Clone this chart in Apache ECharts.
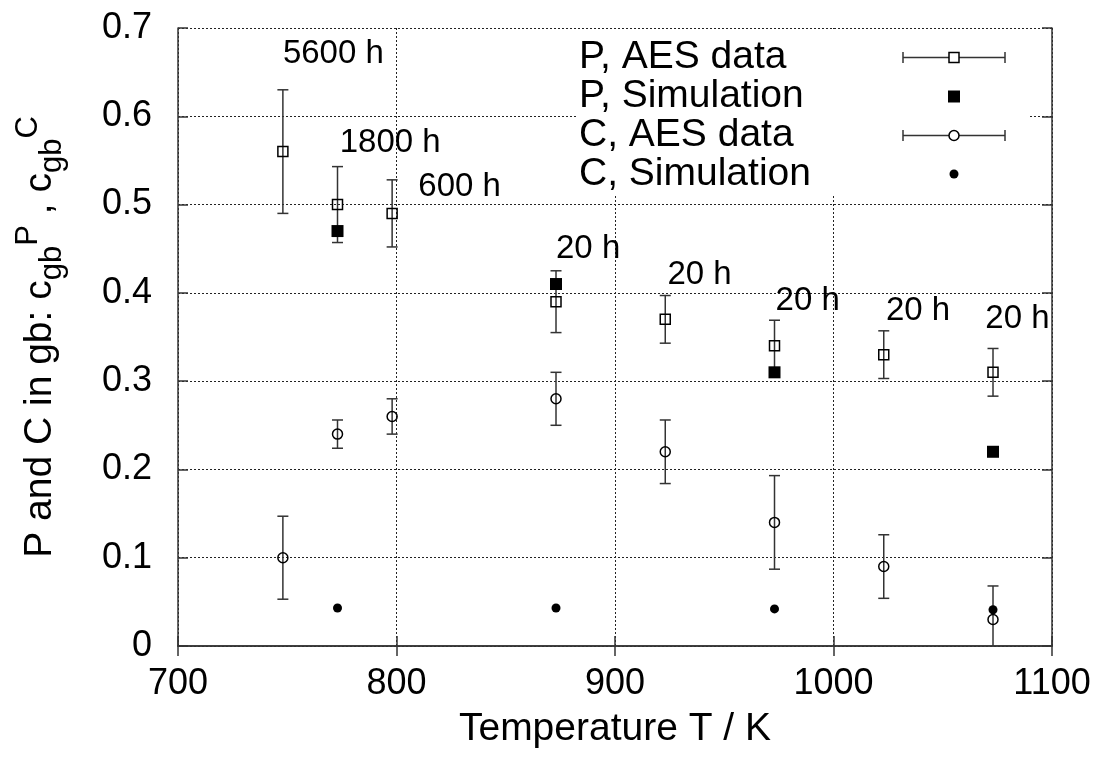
<!DOCTYPE html>
<html>
<head>
<meta charset="utf-8">
<title>P and C grain boundary concentration vs temperature</title>
<script src="https://cdn.jsdelivr.net/npm/echarts@6/dist/echarts.min.js"></script>
<style>
  html, body { margin: 0; padding: 0; background: #fff; }
  #chart { width: 1099px; height: 763px; }
</style>
</head>
<body>
<div id="chart"></div>
<script>
// Temperatures (K) of the AES measurements and of the simulations
const tempsAes = [748, 773, 798, 873, 923, 973, 1023, 1073];
const tempsSim = [773, 873, 973, 1073];

// Phosphorus: measured grain-boundary fraction with error, simulated values
const pAes    = [0.56, 0.50, 0.49, 0.39, 0.37, 0.34, 0.33, 0.31];
const pAesErr = [0.07, 0.043, 0.038, 0.035, 0.027, 0.029, 0.027, 0.027];
const pSim    = [0.47, 0.41, 0.31, 0.22];

// Carbon: measured grain-boundary fraction with error, simulated values
const cAes    = [0.10, 0.24, 0.26, 0.28, 0.22, 0.14, 0.09, 0.03];
const cAesErr = [0.047, 0.016, 0.02, 0.03, 0.036, 0.053, 0.036, 0.038];
const cSim    = [0.043, 0.043, 0.042, 0.041];

// Annealing-time annotations (anchor = left end of the text)
const noteT    = [748, 774, 810, 873, 924, 973.5, 1024, 1069.5];
const noteY    = [0.671, 0.570, 0.520, 0.450, 0.420, 0.391, 0.380, 0.370];
const noteText = ['5600 h', '1800 h', '600 h', '20 h', '20 h', '20 h', '20 h', '20 h'];

const legendNames = ['P, AES data', 'P, Simulation', 'C, AES data', 'C, Simulation'];

const FONT = '"Liberation Sans", Arial, Helvetica, sans-serif';
const INK = '#000';
const FRAME = '#333';

const zip = (xs, ys) => xs.map((x, i) => [x, ys[i]]);
const withErr = (xs, ys, es) => xs.map((x, i) => [x, ys[i], es[i]]);

// Vertical error bar with end caps
function errorBar(params, api) {
  const x = api.value(0), y = api.value(1), e = api.value(2);
  const top = api.coord([x, y + e]);
  const bot = api.coord([x, y - e]);
  const cap = 5.5;
  const st = { stroke: FRAME, lineWidth: 1.5 };
  return {
    type: 'group',
    children: [
      { type: 'line', shape: { x1: top[0], y1: top[1], x2: bot[0], y2: bot[1] }, style: st },
      { type: 'line', shape: { x1: top[0] - cap, y1: top[1], x2: top[0] + cap, y2: top[1] }, style: st },
      { type: 'line', shape: { x1: bot[0] - cap, y1: bot[1], x2: bot[0] + cap, y2: bot[1] }, style: st }
    ]
  };
}

const gridLine = { show: true, lineStyle: { color: '#222', width: 1, type: [2, 2] } };
const frameLine = { show: true, lineStyle: { color: FRAME, width: 1.5 } };
const inTick = { show: true, inside: true, length: 10, lineStyle: { color: FRAME, width: 1.5 } };

// Key drawn in the upper right corner of the plot
const rowY = [57.5, 96.5, 135.5, 174];
const keyText = 579, keyMid = 954, keyL = 903, keyR = 1005;
const keyEls = [
  // white panel hiding the grid behind the key
  { type: 'rect', z: 3, shape: { x: 578, y: 29, width: 450, height: 166 }, style: { fill: '#fff' } }
];
legendNames.forEach((name, i) => {
  const y = rowY[i];
  keyEls.push({ type: 'text', z: 4, x: keyText, y: y,
    style: { text: name, font: '39px ' + FONT, fill: INK, verticalAlign: 'middle', align: 'left' } });
  const hasBar = (i === 0 || i === 2);
  if (hasBar) {
    const st = { stroke: FRAME, lineWidth: 1.5 };
    keyEls.push({ type: 'line', z: 4, shape: { x1: keyL, y1: y, x2: keyR, y2: y }, style: st });
    keyEls.push({ type: 'line', z: 4, shape: { x1: keyL, y1: y - 5.5, x2: keyL, y2: y + 5.5 }, style: st });
    keyEls.push({ type: 'line', z: 4, shape: { x1: keyR, y1: y - 5.5, x2: keyR, y2: y + 5.5 }, style: st });
  }
  if (i === 0) keyEls.push({ type: 'rect', z: 5, shape: { x: keyMid - 5, y: y - 5, width: 10, height: 10 }, style: { fill: '#fff', stroke: INK, lineWidth: 1.5 } });
  if (i === 1) keyEls.push({ type: 'rect', z: 5, shape: { x: keyMid - 6, y: y - 6, width: 12, height: 12 }, style: { fill: INK } });
  if (i === 2) keyEls.push({ type: 'circle', z: 5, shape: { cx: keyMid, cy: y, r: 5 }, style: { fill: '#fff', stroke: INK, lineWidth: 1.5 } });
  if (i === 3) keyEls.push({ type: 'circle', z: 5, shape: { cx: keyMid, cy: y, r: 4.5 }, style: { fill: INK } });
});

const chart = echarts.init(document.getElementById('chart'), null, { renderer: 'canvas' });

chart.setOption({
  backgroundColor: '#fff',
  animation: false,
  textStyle: { fontFamily: FONT, color: INK },
  grid: { left: 178, top: 28, right: 47, bottom: 117, containLabel: false },
  xAxis: [
    {
      type: 'value', position: 'bottom', min: 700, max: 1100, interval: 100,
      name: 'Temperature T / K', nameLocation: 'middle', nameGap: 64,
      nameTextStyle: { fontSize: 39, color: INK, fontFamily: FONT },
      axisLine: frameLine, axisTick: inTick, splitLine: gridLine,
      axisLabel: { fontSize: 36, color: INK, margin: 20, fontFamily: FONT,
        formatter: v => String(v) }
    },
    {
      type: 'value', position: 'top', min: 700, max: 1100, interval: 100, z: 6,
      axisLine: frameLine, axisTick: inTick, splitLine: { show: false }, axisLabel: { show: false }
    }
  ],
  yAxis: [
    {
      type: 'value', position: 'left', min: 0, max: 0.7, interval: 0.1,
      name: '{m|P and C in gb: c}{sub|gb}{sup|P}{m| , c}{sub|gb}{sup|C}',
      nameLocation: 'middle', nameRotate: 90, nameGap: 110,
      nameTextStyle: {
        color: INK, fontFamily: FONT,
        rich: {
          m:   { fontSize: 39, lineHeight: 55, verticalAlign: 'middle', fontFamily: FONT, color: INK },
          sub: { fontSize: 31, lineHeight: 31, verticalAlign: 'bottom', fontFamily: FONT, color: INK },
          sup: { fontSize: 31, lineHeight: 19, verticalAlign: 'top', fontFamily: FONT, color: INK }
        }
      },
      axisLine: frameLine, axisTick: inTick, splitLine: gridLine,
      axisLabel: { fontSize: 36, color: INK, margin: 26, fontFamily: FONT,
        formatter: v => String(+v.toFixed(1)) }
    },
    {
      type: 'value', position: 'right', min: 0, max: 0.7, interval: 0.1, z: 6,
      axisLine: frameLine, axisTick: inTick, splitLine: { show: false }, axisLabel: { show: false }
    }
  ],
  graphic: { elements: keyEls },
  series: [
    { name: 'P, AES data error', type: 'custom', renderItem: errorBar, clip: true, z: 3,
      data: withErr(tempsAes, pAes, pAesErr), encode: { x: 0, y: 1 } },
    { name: 'C, AES data error', type: 'custom', renderItem: errorBar, clip: true, z: 3,
      data: withErr(tempsAes, cAes, cAesErr), encode: { x: 0, y: 1 } },
    { name: 'P, AES data', type: 'scatter', symbol: 'rect', symbolSize: 10, z: 4,
      itemStyle: { color: 'transparent', borderColor: INK, borderWidth: 1.5, opacity: 1 },
      data: zip(tempsAes, pAes) },
    { name: 'P, Simulation', type: 'scatter', symbol: 'rect', symbolSize: 12, z: 5,
      itemStyle: { color: INK, opacity: 1 }, data: zip(tempsSim, pSim) },
    { name: 'C, AES data', type: 'scatter', symbol: 'circle', symbolSize: 10, z: 4,
      itemStyle: { color: 'transparent', borderColor: INK, borderWidth: 1.5, opacity: 1 },
      data: zip(tempsAes, cAes) },
    { name: 'C, Simulation', type: 'scatter', symbol: 'circle', symbolSize: 9, z: 5,
      itemStyle: { color: INK, opacity: 1 }, data: zip(tempsSim, cSim) },
    { name: 'Annealing time', type: 'scatter', symbolSize: 0, silent: true, z: 6,
      itemStyle: { opacity: 1 },
      data: noteT.map((t, i) => ({ value: [t, noteY[i]], text: noteText[i] })),
      label: { show: true, position: 'right', distance: 0, fontSize: 33, color: INK,
        fontFamily: FONT, verticalAlign: 'middle',
        formatter: p => p.data.text } }
  ]
});
</script>
</body>
</html>
